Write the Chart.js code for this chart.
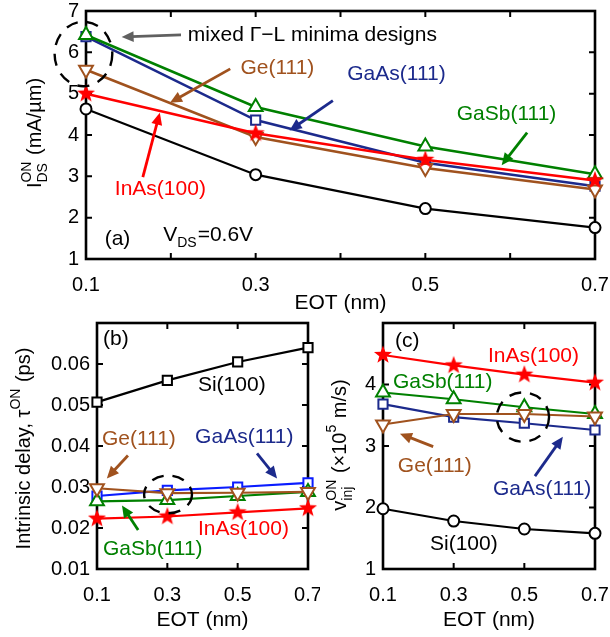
<!DOCTYPE html>
<html>
<head>
<meta charset="utf-8">
<script src="https://cdn.jsdelivr.net/npm/chart.js@4"></script>
<style>
html, body { margin: 0; padding: 0; background: #fff; }
canvas { position: absolute; }
</style>
</head>
<body>
<canvas id="chartA" width="610" height="322" style="left:0px;top:0px"></canvas>
<canvas id="chartB" width="320" height="325" style="left:0px;top:312px"></canvas>
<canvas id="chartC" width="290" height="325" style="left:320px;top:312px"></canvas>
<script>
// EOT values (nm) shared by all panels
const eot = [0.1, 0.3, 0.5, 0.7]
const xTickLabels = ['0.1', '0.3', '0.5', '0.7']
const xTicksA = [0.1, 0.2, 0.3, 0.4, 0.5, 0.6, 0.7]

// (a) on-current I_DS^ON (mA/um)
const ionInAs = [5.00, 4.04, 3.40, 2.90]
const ionGe = [5.58, 3.95, 3.20, 2.68]
const ionGaSb = [6.42, 4.68, 3.72, 3.05]
const ionGaAs = [6.38, 4.36, 3.33, 2.76]
const ionSi = [4.63, 3.04, 2.22, 1.76]

// (b) intrinsic delay tau^ON (ps)
const tauInAs = [0.0223, 0.0228, 0.0238, 0.0248]
const tauGe = [0.0297, 0.0285, 0.0286, 0.0288]
const tauGaSb = [0.0265, 0.0268, 0.0278, 0.0288]
const tauGaAs = [0.0278, 0.0292, 0.0300, 0.0310]
const tauSi = [0.0507, 0.0560, 0.0605, 0.0640]

// (c) injection velocity v_inj^ON (x1e5 m/s)
const vInAs = [4.48, 4.31, 4.16, 4.03]
const vGe = [3.35, 3.52, 3.52, 3.48]
const vGaSb = [3.87, 3.76, 3.63, 3.52]
const vGaAs = [3.68, 3.47, 3.37, 3.26]
const vSi = [1.98, 1.78, 1.65, 1.58]

const FONT = '"Liberation Sans", Arial, Helvetica, sans-serif'
const RED = '#ff0000', GREEN = '#008000', NAVY = '#1c2a8c', BLUE = '#0a1cff', BROWN = '#a0521e', BLACK = '#000000', GRAY = '#606060'

function starImage(color) {
    const c = document.createElement('canvas')
    c.width = 22; c.height = 22
    const g = c.getContext('2d')
    g.beginPath()
    for (let i = 0; i < 10; i++) {
        const r = i % 2 ? 3.9 : 9.5
        const a = -Math.PI / 2 + i * Math.PI / 5
        g.lineTo(11 + r * Math.cos(a), 11 + r * Math.sin(a))
    }
    g.closePath()
    g.fillStyle = color
    g.fill()
    return c
}
const star = starImage(RED)

const markers = {
    star: { pointStyle: star, pointRadius: 9 },
    circle: { pointStyle: 'circle', pointRadius: 5.5 },
    rect: { pointStyle: 'rect', pointRadius: 6.5 },
    up: { pointStyle: 'triangle', pointRadius: 8 },
    down: { pointStyle: 'triangle', pointRadius: 8, pointRotation: 180 }
}

function series(label, ys, color, marker, width) {
    return Object.assign({
        label: label,
        data: eot.map((x, i) => ({ x: x, y: ys[i] })),
        borderColor: color,
        borderWidth: width || 2.6,
        pointBorderColor: color,
        pointBackgroundColor: '#ffffff',
        pointBorderWidth: 2,
        clip: false,
        tension: 0
    }, markers[marker])
}

function drawRich(ctx, parts, x, y, size, color, align) {
    const small = Math.round(size * 0.68)
    const items = parts.map(p => {
        if (typeof p === 'string') {
            ctx.font = size + 'px ' + FONT
            return { t: p, w: ctx.measureText(p).width }
        }
        ctx.font = small + 'px ' + FONT
        const w = Math.max(p.sub ? ctx.measureText(p.sub).width : 0, p.sup ? ctx.measureText(p.sup).width : 0)
        return { sub: p.sub, sup: p.sup, w: w + 1 }
    })
    const total = items.reduce((s, i) => s + i.w, 0)
    let cx = align === 'center' ? x - total / 2 : x
    ctx.fillStyle = color
    ctx.textAlign = 'left'
    ctx.textBaseline = 'alphabetic'
    items.forEach(i => {
        if (i.t !== undefined) {
            ctx.font = size + 'px ' + FONT
            ctx.fillText(i.t, cx, y)
        } else {
            ctx.font = small + 'px ' + FONT
            if (i.sub) ctx.fillText(i.sub, cx, y + size * 0.32)
            if (i.sup) ctx.fillText(i.sup, cx, y - size * 0.5)
        }
        cx += i.w
    })
}

function arrow(ctx, x1, y1, x2, y2, color) {
    const a = Math.atan2(y2 - y1, x2 - x1)
    const L = 12, W = 5.5
    ctx.strokeStyle = color
    ctx.fillStyle = color
    ctx.lineWidth = 2.8
    ctx.beginPath()
    ctx.moveTo(x1, y1)
    ctx.lineTo(x2 - L * 0.8 * Math.cos(a), y2 - L * 0.8 * Math.sin(a))
    ctx.stroke()
    ctx.beginPath()
    ctx.moveTo(x2, y2)
    ctx.lineTo(x2 - L * Math.cos(a) + W * Math.sin(a), y2 - L * Math.sin(a) - W * Math.cos(a))
    ctx.lineTo(x2 - L * Math.cos(a) - W * Math.sin(a), y2 - L * Math.sin(a) + W * Math.cos(a))
    ctx.closePath()
    ctx.fill()
}

function deco(cfg) {
    return {
        id: 'deco',
        beforeDatasetsDraw(chart) {
            const ctx = chart.ctx, a = chart.chartArea
            const xs = chart.scales.x, ys = chart.scales.y
            ctx.save()
            ctx.strokeStyle = BLACK
            ctx.lineWidth = 2
            ctx.beginPath()
            xs.ticks.forEach(t => {
                const px = xs.getPixelForValue(t.value)
                ctx.moveTo(px, a.bottom); ctx.lineTo(px, a.bottom - 6)
                ctx.moveTo(px, a.top); ctx.lineTo(px, a.top + 6)
            })
            ys.ticks.forEach(t => {
                const py = ys.getPixelForValue(t.value)
                ctx.moveTo(a.left, py); ctx.lineTo(a.left + 6, py)
                ctx.moveTo(a.right, py); ctx.lineTo(a.right - 6, py)
            })
            ctx.stroke()
            ctx.lineWidth = 2.6
            ctx.strokeRect(a.left, a.top, a.right - a.left, a.bottom - a.top)
            ctx.restore()
        },
        afterDraw(chart) {
            const ctx = chart.ctx, a = chart.chartArea
            const xs = chart.scales.x, ys = chart.scales.y
            const X = v => xs.getPixelForValue(v), Y = v => ys.getPixelForValue(v)
            ctx.save()
            // dashed rings
            cfg.rings.forEach(r => {
                ctx.strokeStyle = BLACK
                ctx.lineWidth = 2.4
                ctx.setLineDash([12, 9])
                ctx.beginPath()
                ctx.ellipse(X(r.x), Y(r.y), Math.abs(X(r.x + r.rx) - X(r.x)), Math.abs(Y(r.y + r.ry) - Y(r.y)), 0, 0, Math.PI * 2)
                ctx.stroke()
                ctx.setLineDash([])
            })
            cfg.arrows.forEach(r => arrow(ctx, X(r.x1), Y(r.y1), X(r.x2), Y(r.y2), r.c))
            cfg.texts.forEach(t => {
                const parts = typeof t.t === 'string' ? [t.t] : t.t
                drawRich(ctx, parts, X(t.x), Y(t.y) + 21 * 0.36, 21, t.c || BLACK, 'left')
            })
            // axis titles
            ctx.font = '21px ' + FONT
            ctx.fillStyle = BLACK
            ctx.textAlign = 'center'
            ctx.textBaseline = 'middle'
            ctx.fillText('EOT (nm)', (a.left + a.right) / 2, a.bottom + cfg.xTitleGap)
            ctx.translate(a.left + cfg.yTitle.dx, (a.top + a.bottom) / 2 + cfg.yTitle.dy)
            ctx.rotate(-Math.PI / 2)
            drawRich(ctx, cfg.yTitle.parts, 0, 0, 20, BLACK, 'center')
            ctx.restore()
        }
    }
}

function makeChart(id, cfg) {
    return new Chart(document.getElementById(id), {
        type: 'line',
        data: { datasets: cfg.datasets },
        options: {
            responsive: false,
            animation: false,
            events: [],
            layout: { padding: cfg.padding },
            plugins: { legend: { display: false }, tooltip: { enabled: false } },
            scales: {
                x: {
                    type: 'linear', min: 0.1, max: 0.7,
                    afterBuildTicks: s => { s.ticks = cfg.xTicks.map(v => ({ value: v })) },
                    ticks: {
                        autoSkip: false, maxRotation: 0, color: BLACK, padding: cfg.xPad,
                        font: { family: FONT, size: 20 },
                        callback: v => {
                            const i = eot.findIndex(e => Math.abs(e - v) < 1e-6)
                            return i < 0 ? '' : xTickLabels[i]
                        }
                    },
                    grid: { display: false, drawTicks: false },
                    border: { display: false },
                    afterFit: s => { s.height = cfg.xHeight; s.paddingLeft = 0; s.paddingRight = 0 }
                },
                y: {
                    type: 'linear', min: cfg.yMin, max: cfg.yMax,
                    ticks: {
                        stepSize: cfg.yStep, color: BLACK, padding: 7,
                        font: { family: FONT, size: 20 },
                        callback: cfg.yLabel
                    },
                    grid: { display: false, drawTicks: false },
                    border: { display: false },
                    afterFit: s => { s.width = cfg.yWidth; s.paddingTop = 0; s.paddingBottom = 0 }
                }
            }
        },
        plugins: [deco(cfg)]
    })
}

makeChart('chartA', {
    datasets: [
        series('InAs(100)', ionInAs, RED, 'star'),
        series('Ge(111)', ionGe, BROWN, 'down'),
        series('GaSb(111)', ionGaSb, GREEN, 'up'),
        series('GaAs(111)', ionGaAs, NAVY, 'rect'),
        series('Si(100)', ionSi, BLACK, 'circle', 2.2)
    ],
    padding: { top: 10, right: 15, left: 0, bottom: 0 },
    xTicks: xTicksA, xPad: 14, xHeight: 63, xTitleGap: 44,
    yMin: 1, yMax: 7, yStep: 1, yWidth: 86,
    yLabel: v => String(v),
    yTitle: { dx: -45, dy: -2, parts: ['I', { sub: 'DS', sup: 'ON' }, ' (mA/\u00b5m)'] },
    rings: [{ x: 0.097, y: 5.96, rx: 0.034, ry: 0.78 }],
    arrows: [
        { x1: 0.212, y1: 6.42, x2: 0.142, y2: 6.37, c: GRAY },
        { x1: 0.270, y1: 5.60, x2: 0.199, y2: 4.78, c: BROWN },
        { x1: 0.391, y1: 4.83, x2: 0.340, y2: 4.11, c: NAVY },
        { x1: 0.620, y1: 4.06, x2: 0.590, y2: 3.27, c: GREEN },
        { x1: 0.167, y1: 2.98, x2: 0.187, y2: 4.54, c: RED }
    ],
    texts: [
        { t: 'mixed \u0393\u2212L minima designs', x: 0.22, y: 6.45 },
        { t: 'Ge(111)', x: 0.282, y: 5.67, c: BROWN },
        { t: 'GaAs(111)', x: 0.408, y: 5.51, c: NAVY },
        { t: 'GaSb(111)', x: 0.537, y: 4.54, c: GREEN },
        { t: 'InAs(100)', x: 0.134, y: 2.73, c: RED },
        { t: '(a)', x: 0.122, y: 1.51 },
        { t: ['V', { sub: 'DS' }, '=0.6V'], x: 0.191, y: 1.63 }
    ]
})

makeChart('chartB', {
    datasets: [
        series('InAs(100)', tauInAs, RED, 'star', 2.2),
        series('Ge(111)', tauGe, BROWN, 'down', 2.2),
        series('GaSb(111)', tauGaSb, GREEN, 'up', 2.2),
        series('GaAs(111)', tauGaAs, BLUE, 'rect', 2.2),
        series('Si(100)', tauSi, BLACK, 'rect', 2.2)
    ],
    padding: { top: 10, right: 12, left: 0, bottom: 0 },
    xTicks: eot, xPad: 14, xHeight: 68, xTitleGap: 51,
    yMin: 0.01, yMax: 0.07, yStep: 0.01, yWidth: 97,
    yLabel: v => v > 0.0695 ? '' : v.toFixed(2),
    yTitle: { dx: -67, dy: 2.5, parts: ['Intrinsic delay, \u03c4', { sup: 'ON' }, ' (ps)'] },
    rings: [{ x: 0.302, y: 0.0282, rx: 0.068, ry: 0.0046 }],
    arrows: [
        { x1: 0.188, y1: 0.0377, x2: 0.128, y2: 0.0321, c: BROWN },
        { x1: 0.555, y1: 0.0382, x2: 0.612, y2: 0.0321, c: NAVY },
        { x1: 0.217, y1: 0.0195, x2: 0.171, y2: 0.0255, c: GREEN }
    ],
    texts: [
        { t: '(b)', x: 0.117, y: 0.0664 },
        { t: 'Si(100)', x: 0.387, y: 0.0552 },
        { t: 'Ge(111)', x: 0.114, y: 0.0421, c: BROWN },
        { t: 'GaAs(111)', x: 0.379, y: 0.0425, c: NAVY },
        { t: 'GaSb(111)', x: 0.117, y: 0.0153, c: GREEN },
        { t: 'InAs(100)', x: 0.387, y: 0.0202, c: RED }
    ]
})

makeChart('chartC', {
    datasets: [
        series('InAs(100)', vInAs, RED, 'star', 2.2),
        series('Ge(111)', vGe, BROWN, 'down', 2.2),
        series('GaSb(111)', vGaSb, GREEN, 'up', 2.2),
        series('GaAs(111)', vGaAs, NAVY, 'rect', 2.2),
        series('Si(100)', vSi, BLACK, 'circle', 2.2)
    ],
    padding: { top: 8, right: 15, left: 0, bottom: 0 },
    xTicks: eot, xPad: 14, xHeight: 68, xTitleGap: 51,
    yMin: 1, yMax: 5, yStep: 1, yWidth: 63,
    yLabel: v => v >= 5 ? '' : String(v),
    yTitle: { dx: -37, dy: -1, parts: ['v', { sub: 'inj', sup: 'ON' }, ' (\u00d710', { sup: '5' }, ' m/s)'] },
    rings: [{ x: 0.496, y: 3.47, rx: 0.074, ry: 0.40 }],
    arrows: [
        { x1: 0.242, y1: 2.99, x2: 0.148, y2: 3.20, c: BROWN },
        { x1: 0.530, y1: 2.51, x2: 0.609, y2: 3.15, c: NAVY }
    ],
    texts: [
        { t: '(c)', x: 0.134, y: 4.73 },
        { t: 'InAs(100)', x: 0.397, y: 4.49, c: RED },
        { t: 'GaSb(111)', x: 0.128, y: 4.07, c: GREEN },
        { t: 'Ge(111)', x: 0.142, y: 2.70, c: BROWN },
        { t: 'GaAs(111)', x: 0.411, y: 2.32, c: NAVY },
        { t: 'Si(100)', x: 0.233, y: 1.43 }
    ]
})
</script>
</body>
</html>
